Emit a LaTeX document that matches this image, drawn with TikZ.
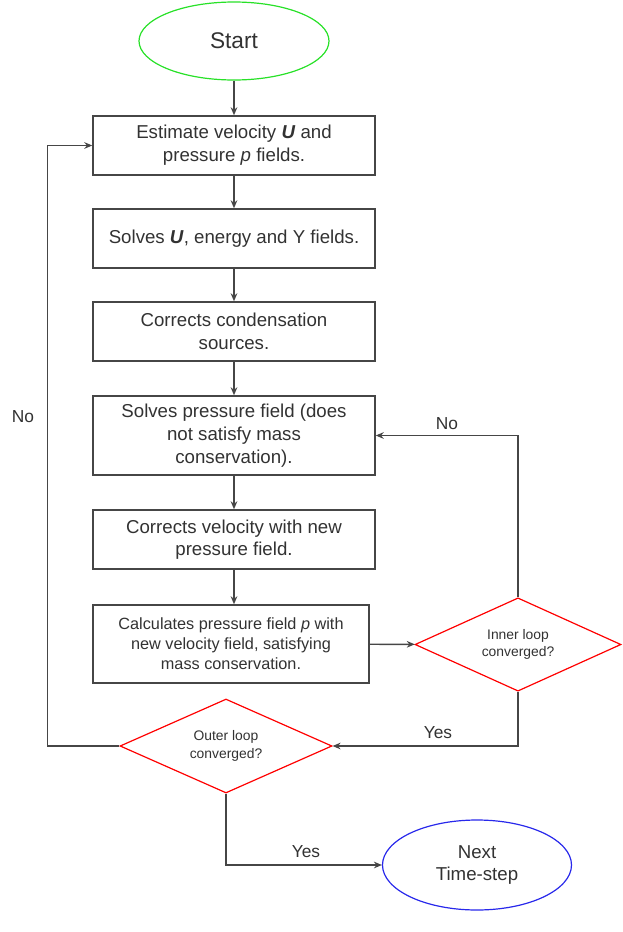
\documentclass[tikz,border=0pt]{standalone}
\usepackage{fontspec}
\setmainfont{Liberation Sans}
\usetikzlibrary{shapes.geometric,arrows.meta,positioning}
\definecolor{linegray}{RGB}{70,70,70}
\definecolor{textgray}{RGB}{50,50,50}
\definecolor{startgreen}{RGB}{40,225,40}
\definecolor{endblue}{RGB}{40,40,235}
\tikzset{
  stepbox/.style={draw=linegray, line width=1.1pt, rectangle, minimum width=211.5pt,
    minimum height=44.25pt, align=center, text=textgray, inner sep=2pt,
    font=\fontsize{14}{17}\selectfont},
  terminal/.style={draw, ellipse, line width=0.9pt, align=center, text=textgray, inner sep=0pt},
  decision/.style={draw=red, diamond, aspect=2.2, line width=0.9pt, align=center, text=textgray,
    inner sep=0pt, font=\fontsize{10.4}{13}\selectfont},
  flow/.style={draw=linegray, line width=1.1pt, -{Stealth[length=6pt,width=5pt]}},
  lbl/.style={text=textgray, font=\fontsize{13}{15}\selectfont},
}
\begin{document}
\begin{tikzpicture}[x=0.75pt,y=-0.75pt]
\useasboundingbox (0,0) rectangle (622,932);
% terminals
\node[terminal, draw=startgreen, minimum width=142.5pt, minimum height=58.5pt,
  font=\fontsize{17}{20}\selectfont] (start) at (234,41) {Start};
\node[terminal, draw=endblue, minimum width=141.75pt, minimum height=67.5pt,
  font=\fontsize{14}{17}\selectfont] (next) at (477,865) {Next\\Time-step};
% process steps
\node[stepbox] (est) at (234,145.5) {Estimate velocity \textbf{\textit{U}} and\\pressure \textit{p} fields.};
\node[stepbox] (solveu) at (234,238.5) {Solves \textbf{\textit{U}}, energy and Y fields.};
\node[stepbox] (cond) at (234,331.5) {Corrects condensation\\sources.};
\node[stepbox, minimum height=59.25pt] (solvep) at (234,435.5) {Solves pressure field (does\\not satisfy mass\\conservation).};
\node[stepbox] (corr) at (234,539.5) {Corrects velocity with new\\pressure field.};
\node[stepbox, minimum width=207pt, minimum height=58.5pt, font=\fontsize{12.2}{15}\selectfont]
  (calc) at (231,644) {Calculates pressure field \textit{p} with\\new velocity field, satisfying\\mass conservation.};
% decisions
\node[decision, minimum width=154.5pt, minimum height=70pt] (inner) at (518,644.5) {Inner loop\\converged?};
\node[decision, minimum width=159pt, minimum height=70.5pt] (outer) at (226,746) {Outer loop\\converged?};
% connectors
\draw[flow] (start) -- (est);
\draw[flow] (est) -- (solveu);
\draw[flow] (solveu) -- (cond);
\draw[flow] (cond) -- (solvep);
\draw[flow] (solvep) -- (corr);
\draw[flow] (corr.south) -- (corr.south |- calc.north);
\draw[flow] (calc) -- (inner);
\draw[flow] (inner.north) |- (solvep.east);
\draw[flow] (inner.south) |- (outer.east);
\draw[flow] (outer.west) -- ++(-72,0) |- (est.west);
\draw[flow] (outer.south) |- (next.west);
% labels
\node[lbl] (noinner) at (447,424) {No};
\node[lbl] (yesinner) at (438,733) {Yes};
\node[lbl] (noouter) at (23,417) {No};
\node[lbl] (yesouter) at (306,852) {Yes};
\end{tikzpicture}
\end{document}
